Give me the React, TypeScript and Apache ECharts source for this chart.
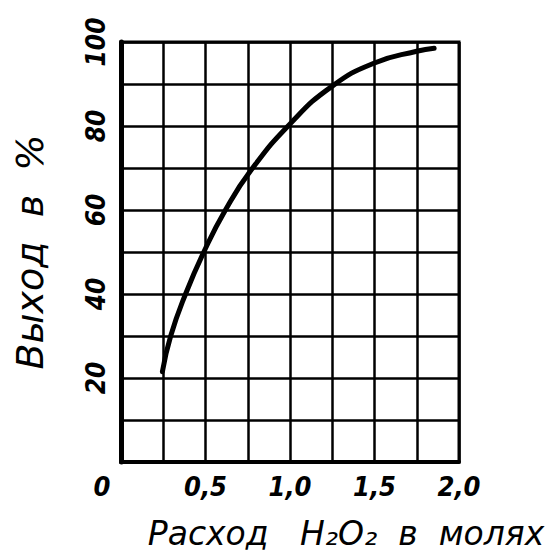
import React, { useEffect, useRef } from "react";
import * as echarts from "echarts";

const xTicks = [0.5, 1.0, 1.5, 2.0];
const yTicks = [20, 40, 60, 80, 100];
const curveX = [0.245, 0.294, 0.382, 0.49, 0.618, 0.77, 1.0, 1.25, 1.5, 1.75, 1.853];
const curveY = [21.5, 30, 40, 50, 60, 69.5, 80.5, 89.5, 95, 97.8, 98.5];
const xTitle = "Расход   H₂O₂  в  молях";
const yTitle = "Выход  в  %";

const NUM_FONT = "'Liberation Sans Narrow', 'DejaVu Sans Condensed', 'DejaVu Sans', sans-serif";
const TITLE_FONT = "'DejaVu Sans', sans-serif";

export default function App() {
  const ref = useRef<HTMLDivElement>(null);
  useEffect(() => {
    if (!ref.current) return;
    const chart = echarts.init(ref.current, null, { renderer: "svg" });
    const data = curveX.map((x, i) => [x, curveY[i]]);
    chart.setOption({
      animation: false,
      backgroundColor: "#fff",
      grid: {
        left: 121,
        right: 90,
        top: 42,
        bottom: 95,
        show: true,
        borderColor: "#000",
        borderWidth: 3,
        backgroundColor: "transparent",
      },
      xAxis: {
        type: "value",
        min: 0,
        max: 2,
        interval: 0.25,
        axisLine: { show: true, lineStyle: { color: "#000", width: 4 } },
        axisTick: { show: false },
        splitLine: { show: true, lineStyle: { color: "#000", width: 2.5 } },
        axisLabel: {
          show: true,
          margin: 11,
          color: "#000",
          fontFamily: NUM_FONT,
          fontStyle: "italic",
          fontWeight: "bold",
          fontSize: 27,
          showMinLabel: true,
          showMaxLabel: true,
          formatter: (v: number) =>
            xTicks.some((t) => Math.abs(t - v) < 1e-6) ? v.toFixed(1).replace(".", ",") : "",
        },
        name: xTitle,
        nameLocation: "middle",
        nameGap: 55,
        nameTextStyle: {
          color: "#000",
          fontFamily: TITLE_FONT,
          fontStyle: "italic",
          fontSize: 33,
          padding: [0, 0, 0, 112],
        },
      },
      yAxis: {
        type: "value",
        min: 0,
        max: 100,
        interval: 10,
        axisLine: { show: true, lineStyle: { color: "#000", width: 5 } },
        axisTick: { show: false },
        splitLine: { show: true, lineStyle: { color: "#000", width: 2.5 } },
        axisLabel: {
          show: true,
          rotate: 90,
          margin: 12,
          color: "#000",
          fontFamily: NUM_FONT,
          fontStyle: "italic",
          fontWeight: "bold",
          fontSize: 26,
          showMaxLabel: true,
          formatter: (v: number) => (yTicks.includes(v) ? String(v) : ""),
        },
        name: yTitle,
        nameLocation: "middle",
        nameGap: 72,
        nameRotate: 90,
        nameTextStyle: {
          color: "#000",
          fontFamily: TITLE_FONT,
          fontStyle: "italic",
          fontSize: 38,
        },
      },
      graphic: [
        {
          type: "text",
          x: 102,
          y: 486,
          style: {
            text: "0",
            fill: "#000",
            align: "center",
            verticalAlign: "middle",
            font: `italic bold 27px ${NUM_FONT}`,
          },
        },
      ],
      series: [
        {
          type: "line",
          data,
          smooth: 0.5,
          showSymbol: false,
          symbol: "none",
          lineStyle: { color: "#000", width: 5, cap: "round" },
        },
      ],
    });
    return () => chart.dispose();
  }, []);
  return (
    <div
      ref={ref}
      style={{ position: "fixed", left: 0, top: 0, width: 549, height: 557, background: "#fff" }}
    />
  );
}
